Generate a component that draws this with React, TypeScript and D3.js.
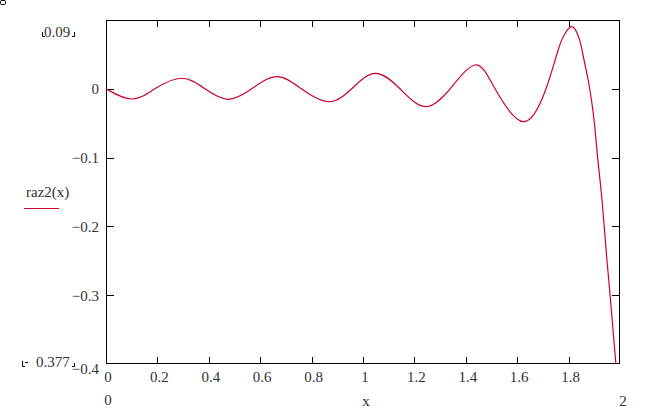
import React from "react";
import * as d3 from "d3";

// data
const xValues = [0, 0.1, 0.19, 0.294, 0.385, 0.475, 0.567, 0.664, 0.76, 0.865, 0.956, 1.047, 1.144, 1.241, 1.339, 1.436, 1.514, 1.624, 1.712, 1.763, 1.79, 1.812, 1.833, 1.848, 1.86, 1.876, 1.889, 1.901, 1.914, 1.93, 1.946, 1.963, 1.984];
const yValues = [0, -0.0148, 0, 0.0153, 0, -0.0153, 0, 0.0176, 0, -0.0187, 0, 0.0225, 0, -0.026, 0, 0.0346, 0, -0.0478, 0, 0.0608, 0.0826, 0.0903, 0.0811, 0.0637, 0.0419, 0.0128, -0.0163, -0.0526, -0.1036, -0.1616, -0.2343, -0.307, -0.4];

const xDomain = [0, 2];
const yDomain = [-0.4, 0.1];
const xTicks = [0, 0.2, 0.4, 0.6, 0.8, 1, 1.2, 1.4, 1.6, 1.8];
const xTickLabels = ["0", "0.2", "0.4", "0.6", "0.8", "1", "1.2", "1.4", "1.6", "1.8"];
const yTicks = [0, -0.1, -0.2, -0.3, -0.4];
const yTickLabels = ["0", "\u22120.1", "\u22120.2", "\u22120.3", "\u22120.4"];
const seriesName = "raz2(x)";
const axisName = "x";
const xLimitLabels = ["0", "2"];
const yMarkerLabels = ["0.09", "0.377"];

export default function App() {
  const W = 647;
  const H = 410;
  const L = 106, R = 620, T = 20, B = 364;
  const x = d3.scaleLinear().domain(xDomain).range([L, R]);
  const y = d3.scaleLinear().domain(yDomain).range([B, T]);
  const pts = xValues.map((v, i) => [v, yValues[i]] as [number, number]);
  const line = d3
    .line<[number, number]>()
    .x((d) => x(d[0]))
    .y((d) => y(d[1]))
    .curve(d3.curveNatural);
  const red = "#cc0030";
  const txt = "#333";
  const font = "'Liberation Serif', 'Times New Roman', serif";
  const fs = 15;
  const tl = 7;

  return (
    <svg
      width={W}
      height={H}
      style={{ position: "absolute", left: 0, top: 0, background: "#fff" }}
      fontFamily={font}
      fontSize={fs}
    >
      <defs>
        <clipPath id="plotclip">
          <rect x={L} y={T} width={R - L} height={B - T} />
        </clipPath>
      </defs>
      <rect x={0} y={0} width={W} height={H} fill="#fff" />
      {/* region handle */}
      <rect x={0.5} y={0.5} width={5} height={4} fill="none" stroke="#000" strokeWidth={1} rx={1} />

      {/* frame */}
      <rect x={L + 0.5} y={T + 0.5} width={R - L - 1} height={B - T - 1} fill="none" stroke="#000" strokeWidth={1} />

      {/* x ticks */}
      {xTicks.filter((t) => t !== 0).map((t, i) => (
        <g key={"xt" + i}>
          <line x1={Math.round(x(t)) + 0.5} x2={Math.round(x(t)) + 0.5} y1={B} y2={B - tl} stroke="#000" />
          <line x1={Math.round(x(t)) + 0.5} x2={Math.round(x(t)) + 0.5} y1={T} y2={T + tl} stroke="#000" />
        </g>
      ))}
      {xTicks.map((t, i) => (
        <text key={"xl" + i} x={x(t) + 2} y={382} textAnchor="middle" fill={txt}>
          {xTickLabels[i]}
        </text>
      ))}

      {/* y ticks */}
      {yTicks.filter((t) => t !== -0.4).map((t, i) => (
        <g key={"yt" + i}>
          <line x1={L} x2={L + tl + 1} y1={Math.round(y(t)) + 0.5} y2={Math.round(y(t)) + 0.5} stroke="#000" />
          <line x1={R - tl - 1} x2={R} y1={Math.round(y(t)) + 0.5} y2={Math.round(y(t)) + 0.5} stroke="#000" />
        </g>
      ))}
      {yTicks.map((t, i) => (
        <text
          key={"yl" + i}
          x={99}
          y={t === -0.4 ? y(t) + 10 : y(t) + 5.5}
          textAnchor="end"
          fill={txt}
        >
          {yTickLabels[i]}
        </text>
      ))}

      {/* top marker label */}
      <text x={44} y={37} fill={txt}>{yMarkerLabels[0]}</text>
      <path d="M42.5,32 V36.5 H45" fill="none" stroke="#000" strokeWidth={1} />
      <path d="M74.5,32 V36.5 H72" fill="none" stroke="#000" strokeWidth={1} />

      {/* bottom marker label */}
      <text x={36} y={367} fill={txt}>{yMarkerLabels[1]}</text>
      <path d="M22.5,361 V366.5 H25" fill="none" stroke="#000" strokeWidth={1} />
      <line x1={25} x2={28} y1={362.5} y2={362.5} stroke="#000" strokeWidth={1} />
      <path d="M72,366.5 H74.5 V363" fill="none" stroke="#000" strokeWidth={1} />

      {/* x limits and axis name */}
      <text x={x(xDomain[0]) + 2} y={405} textAnchor="middle" fill={txt}>{xLimitLabels[0]}</text>
      <text x={x(xDomain[1]) + 3} y={406} textAnchor="middle" fill={txt}>{xLimitLabels[1]}</text>
      <text x={366} y={406} textAnchor="middle" fill={txt}>{axisName}</text>

      {/* legend */}
      <text x={26} y={197} fill={txt}>{seriesName}</text>
      <line x1={24} x2={59} y1={208.5} y2={208.5} stroke={red} strokeWidth={1} />

      {/* series */}
      <path d={line(pts) || ""} fill="none" stroke={red} strokeWidth={1.2} clipPath="url(#plotclip)" />
    </svg>
  );
}
